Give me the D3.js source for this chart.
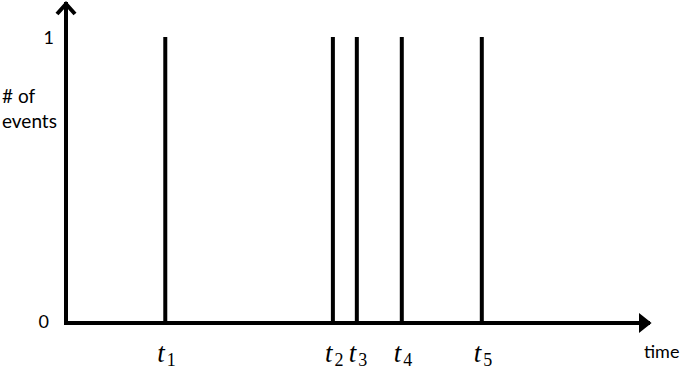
<!DOCTYPE html>
<html><head><meta charset="utf-8">
<script src="https://cdn.jsdelivr.net/npm/d3@7"></script>
<style>body{margin:0;background:#fff}</style>
</head><body>
<svg id="c" width="685" height="369"></svg>
<script>
const eventTimes = [1.70, 4.57, 4.98, 5.75, 7.12];
const eventLabels = ["1", "2", "3", "4", "5"];
const eventCounts = [1, 1, 1, 1, 1];
const yTickValues = [0, 1];
const yTickLabels = ["0", "1"];
const yTitle = ["# of", "events"];
const xTitle = "time";

const svg = d3.select("#c");
const x = d3.scaleLinear().domain([0, 10]).range([66, 650]);
const y = d3.scaleLinear().domain([0, 1]).range([323, 37]);
const sw = 4;
const sans = "Lato, sans-serif";

// stems
svg.selectAll("line.stem").data(eventTimes).enter().append("line")
  .attr("x1", d => x(d)).attr("x2", d => x(d))
  .attr("y1", y(0)).attr("y2", (d, i) => y(eventCounts[i]))
  .attr("stroke", "#000").attr("stroke-width", sw);

// axes
svg.append("line").attr("x1", x(0)).attr("x2", x(10) - 2).attr("y1", y(0)).attr("y2", y(0))
  .attr("stroke", "#000").attr("stroke-width", sw).attr("stroke-linecap", "square");
svg.append("line").attr("x1", x(0)).attr("x2", x(0)).attr("y1", y(0)).attr("y2", 4)
  .attr("stroke", "#000").attr("stroke-width", sw).attr("stroke-linecap", "square");

// arrowheads
svg.append("path").attr("d", `M${x(0)-9},${14} L${x(0)},${4} L${x(0)+9},${14}`)
  .attr("fill", "none").attr("stroke", "#000").attr("stroke-width", sw).attr("stroke-linejoin", "miter");
svg.append("path").attr("d", `M${x(10)-10},${y(0)-8} L${x(10)},${y(0)} L${x(10)-10},${y(0)+8} Z`)
  .attr("fill", "#000").attr("stroke", "#000").attr("stroke-width", 2).attr("stroke-linejoin", "miter");

// y tick labels
svg.selectAll("text.yt").data(yTickValues).enter().append("text")
  .attr("x", (d) => d === 0 ? 49 : 54).attr("y", d => y(d) + (d === 0 ? 5 : 7))
  .attr("text-anchor", "end").attr("font-family", sans)
  .attr("font-size", 18).attr("fill", "#000")
  .text((d, i) => yTickLabels[i]);

// y title
svg.selectAll("text.ytitle").data(yTitle).enter().append("text")
  .attr("x", 2).attr("y", (d, i) => 103 + i * 25)
  .attr("font-family", sans).attr("font-size", 19).attr("fill", "#000")
  .text(d => d);

// event labels
const lab = svg.selectAll("text.ev").data(eventTimes).enter().append("text")
  .attr("x", d => x(d) - 8).attr("y", 362)
  .attr("font-family", "Liberation Serif, serif").attr("fill", "#000");
lab.append("tspan").attr("font-style", "italic").attr("font-size", 27).text("t");
lab.append("tspan").attr("font-size", 18).attr("dy", 4).attr("dx", 2).text((d, i) => eventLabels[i]);

// x title
svg.append("text").attr("x", 644).attr("y", 358)
  .attr("font-family", sans).attr("font-size", 18).attr("fill", "#000")
  .text(xTitle);
</script>
</body></html>
